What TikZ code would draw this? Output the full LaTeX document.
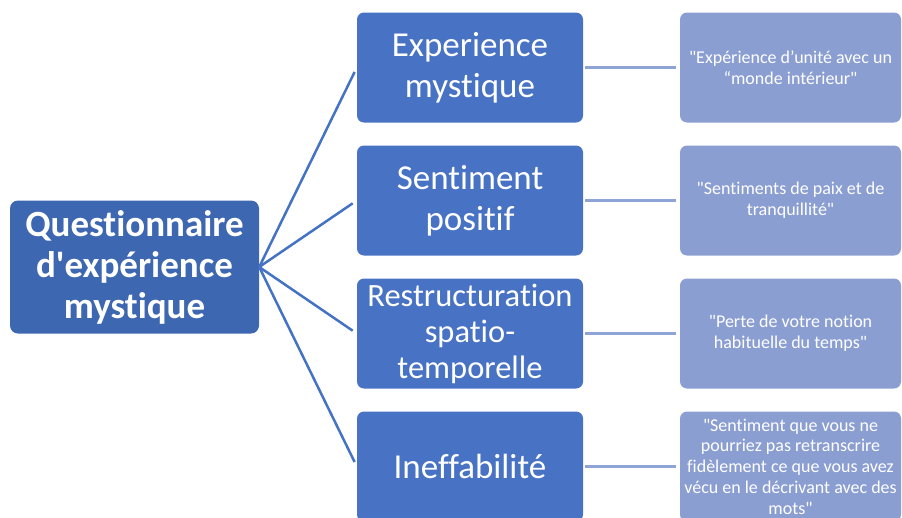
\documentclass[tikz,border=0pt]{standalone}
\usepackage{fontspec}
\setmainfont{Carlito}[Ligatures={TeXOff,NoCommon}]
\definecolor{rootc}{RGB}{61,103,177}
\definecolor{midc}{RGB}{72,115,196}
\definecolor{rightc}{RGB}{139,158,210}
\definecolor{linec}{RGB}{68,114,196}
\definecolor{lightlinec}{RGB}{142,163,214}
\begin{document}
\begin{tikzpicture}[x=1pt,y=-1pt,
  rootbox/.style={fill=rootc, rounded corners=8pt, text=white, align=center, inner sep=0pt,
    minimum width=249pt, minimum height=133pt, font=\fontsize{37}{41}\selectfont\bfseries},
  midbox/.style={fill=midc, rounded corners=7pt, text=white, align=center, inner sep=0pt,
    minimum width=226pt, minimum height=110pt, font=\fontsize{35}{41}\selectfont},
  rightbox/.style={fill=rightc, rounded corners=7pt, text=white, align=center, inner sep=0pt,
    minimum width=221pt, minimum height=110pt, font=\fontsize{18}{20.7}\selectfont},
  branch/.style={draw=linec, line width=2.5pt, shorten >=5pt},
  link/.style={draw=lightlinec, line width=3pt, shorten <=2pt, shorten >=4pt}
]
\useasboundingbox (0,0) rectangle (902,517);
\begin{scope}
\clip (0,0) rectangle (902,517);
\node[rootbox] (root) at (134.5,267) {Questionnaire\\d'expérience\\mystique};

\node[midbox] (m1) at (470,67.5) {Experience\\mystique};
\node[midbox] (m2) at (470,200.5) {Sentiment\\positif};
\node[midbox, font=\fontsize{32.5}{36}\selectfont] (m3) at (470,333.5) {Restructuration\\spatio-\\temporelle};
\node[midbox] (m4) at (470,466.5) {Ineffabilité};

\node[rightbox] (r1) at (790.5,67.5) {"Expérience d’unité avec un\\“monde intérieur"};
\node[rightbox] (r2) at (790.5,200.5) {"Sentiments de paix et de\\tranquillité"};
\node[rightbox] (r3) at (790.5,333.5) {"Perte de votre notion\\habituelle du temps"};
\node[rightbox] (r4) at (790.5,466.5) {"Sentiment que vous ne\\pourriez pas retranscrire\\fidèlement ce que vous avez\\vécu en le décrivant avec des\\mots"};

\foreach \m in {m1,m2,m3,m4}
  \draw[branch] (root.east) -- (\m.west);
\draw[link] (m1.east) -- (r1.west);
\draw[link] (m2.east) -- (r2.west);
\draw[link] (m3.east) -- (r3.west);
\draw[link] (m4.east) -- (r4.west);
\end{scope}
\end{tikzpicture}
\end{document}
